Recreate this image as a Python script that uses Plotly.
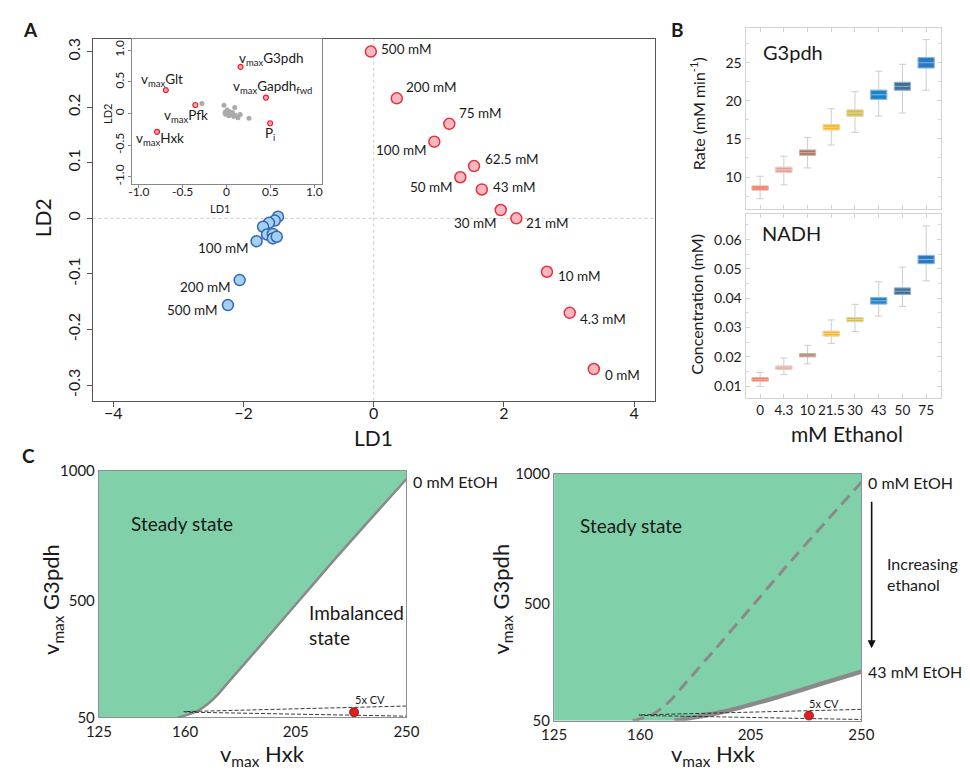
import plotly.graph_objects as go

W, H = 970, 775
FONT = "Lato"
INK = "#1a1a1a"


def pxx(x):
    return x / W


def pxy(y):
    return 1 - y / H


# ---------------- Panel A data ----------------
red_labels = ["500 mM", "200 mM", "75 mM", "100 mM", "62.5 mM", "50 mM", "43 mM",
              "30 mM", "21 mM", "10 mM", "4.3 mM", "0 mM"]
red_ld1 = [-0.045, 0.353, 1.16, 0.93, 1.54, 1.33, 1.66, 1.95, 2.19, 2.66, 3.01, 3.38]
red_ld2 = [0.300, 0.216, 0.170, 0.138, 0.094, 0.074, 0.052, 0.015, 0.000, -0.096, -0.170, -0.271]

blue_labels = ["", "", "", "", "", "", "", "", "100 mM", "200 mM", "500 mM"]
blue_ld1 = [-1.47, -1.52, -1.61, -1.70, -1.64, -1.55, -1.55, -1.49, -1.80, -2.06, -2.24]
blue_ld2 = [0.003, -0.004, -0.008, -0.015, -0.029, -0.028, -0.036, -0.033, -0.041, -0.111, -0.156]

# inset (loadings)
load_names = ["v<sub>max</sub>G3pdh", "v<sub>max</sub>Glt", "v<sub>max</sub>Gapdh<sub>fwd</sub>",
              "v<sub>max</sub>Pfk", "v<sub>max</sub>Hxk", "P<sub>i</sub>"]
load_x = [0.16, -0.692, 0.449, -0.356, -0.792, 0.497]
load_y = [0.736, 0.370, 0.252, 0.134, -0.289, -0.154]
gray_x = [-0.281, -0.029, 0.093, 0.008, 0.037, 0.067, 0.0, 0.026, -0.011, 0.052,
          0.10, 0.156, 0.13, 0.256, 0.082, 0.026, -0.018]
gray_y = [0.159, 0.129, 0.093, 0.057, 0.026, 0.015, 0.036, -0.010, -0.010, -0.010,
          -0.026, -0.015, -0.067, -0.077, -0.046, -0.036, 0.015]

# ---------------- Panel B data ----------------
eth_labels = ["0", "4.3", "10", "21.5", "30", "43", "50", "75"]
g3_med = [8.55, 10.94, 13.2, 16.54, 18.4, 20.8, 21.9, 25.0]
g3_q1 = [8.30, 10.60, 12.86, 16.20, 18.0, 20.2, 21.4, 24.32]
g3_q3 = [8.81, 11.28, 13.54, 16.88, 18.8, 21.4, 22.43, 25.68]
g3_lo = [7.14, 8.97, 11.2, 14.2, 15.86, 18.0, 18.4, 21.4]
g3_hi = [10.1, 12.73, 15.2, 18.97, 21.2, 23.9, 24.8, 28.04]

nadh_med = [0.0122, 0.0162, 0.0206, 0.0279, 0.0327, 0.0391, 0.0424, 0.0532]
nadh_q1 = [0.0117, 0.0157, 0.0200, 0.0271, 0.0320, 0.0380, 0.0413, 0.0518]
nadh_q3 = [0.0128, 0.0168, 0.0211, 0.0287, 0.0334, 0.0402, 0.0435, 0.0546]
nadh_lo = [0.0099, 0.0139, 0.0176, 0.0246, 0.0286, 0.0339, 0.0372, 0.0459]
nadh_hi = [0.0146, 0.0196, 0.0239, 0.0326, 0.0379, 0.0456, 0.0506, 0.0647]

box_colors = ["#ee6a4f", "#e3a296", "#a87360", "#f8b626", "#cfbd50", "#1f82c8", "#3f7099", "#2a79c2"]

# ---------------- Panel C data ----------------
hxk_0mM = [157, 161, 165, 169, 173, 178, 190, 205, 220, 235, 250]
g3_0mM = [50, 60, 75, 100, 135, 190, 320, 485, 650, 810, 968]
hxk_43mM = [174, 193.9, 213.7, 233.5, 250]
g3_43mM = [50, 85, 135, 192, 239.5]
cv_hxk = [250, 161, 159.5, 161, 250]
cv_g3 = [94, 74.5, 72.5, 70.5, 55]
ref_hxk = [228.7]
ref_g3 = [70]

GREEN = "#80d1a9"
LINE_GRAY = "#8a8a8a"

fig = go.Figure()

# ---- Panel A main
fig.add_trace(go.Scatter(x=red_ld1, y=red_ld2, mode="markers", xaxis="x", yaxis="y",
                         marker=dict(size=11, color="#f7b8c2", line=dict(color="#e8303c", width=1.5))))
fig.add_trace(go.Scatter(x=blue_ld1, y=blue_ld2, mode="markers", xaxis="x", yaxis="y",
                         marker=dict(size=11, color="#a3d0ef", line=dict(color="#3466b3", width=1.5))))
# ---- Panel A inset
fig.add_trace(go.Scatter(x=gray_x, y=gray_y, mode="markers", xaxis="x2", yaxis="y2",
                         marker=dict(size=5, color="#aaaaaa")))
fig.add_trace(go.Scatter(x=load_x, y=load_y, mode="markers", xaxis="x2", yaxis="y2",
                         marker=dict(size=5, color="#f7a6ae", line=dict(color="#e8202c", width=1.2))))


def lighten(hexc, f):
    r, g, b = int(hexc[1:3], 16), int(hexc[3:5], 16), int(hexc[5:7], 16)
    r, g, b = [int(c + (255 - c) * f) for c in (r, g, b)]
    return f"rgb({r},{g},{b})"


# ---- Panel B boxes
idx = list(range(len(eth_labels)))
for (xa, ya, med, q1, q3, lo, hi) in [("x3", "y3", g3_med, g3_q1, g3_q3, g3_lo, g3_hi),
                                      ("x4", "y4", nadh_med, nadh_q1, nadh_q3, nadh_lo, nadh_hi)]:
    fig.add_trace(go.Box(x=idx, q1=q1, median=med, q3=q3, lowerfence=lo, upperfence=hi,
                         xaxis=xa, yaxis=ya, width=0.68, whiskerwidth=0.45,
                         fillcolor="rgba(0,0,0,0)", line=dict(color="#cdcdcd", width=1),
                         boxpoints=False, hoverinfo="skip"))
    for i in idx:
        fig.add_trace(go.Box(x=[i], q1=[q1[i]], median=[med[i]], q3=[q3[i]],
                             lowerfence=[q1[i]], upperfence=[q3[i]],
                             xaxis=xa, yaxis=ya, width=0.68, whiskerwidth=0,
                             fillcolor=box_colors[i],
                             line=dict(color=lighten(box_colors[i], 0.45), width=1),
                             boxpoints=False, hoverinfo="skip"))

# ---- Panel C left
fig.add_trace(go.Scatter(x=[125] + hxk_0mM + [250, 125], y=[50] + g3_0mM + [1000, 1000],
                         fill="toself", fillcolor=GREEN, mode="none", xaxis="x5", yaxis="y5",
                         line=dict(shape="spline", smoothing=0.6)))
fig.add_trace(go.Scatter(x=hxk_0mM, y=g3_0mM, mode="lines", xaxis="x5", yaxis="y5",
                         line=dict(color=LINE_GRAY, width=2.5, shape="spline", smoothing=0.6)))
fig.add_trace(go.Scatter(x=cv_hxk, y=cv_g3, mode="lines", xaxis="x5", yaxis="y5",
                         line=dict(color="#222222", width=0.9, dash="4px,2px")))
fig.add_trace(go.Scatter(x=ref_hxk, y=ref_g3, mode="markers", xaxis="x5", yaxis="y5",
                         marker=dict(size=9, color="#e21d1d", line=dict(color="#7a0c0c", width=0.8))))

# ---- Panel C right
fig.add_trace(go.Scatter(x=[125] + hxk_43mM + [250, 125], y=[50] + g3_43mM + [1000, 1000],
                         fill="toself", fillcolor=GREEN, mode="none", xaxis="x6", yaxis="y6"))
fig.add_trace(go.Scatter(x=hxk_0mM, y=g3_0mM, mode="lines", xaxis="x6", yaxis="y6",
                         line=dict(color=LINE_GRAY, width=3, dash="12px,7px", shape="spline", smoothing=0.6)))
fig.add_trace(go.Scatter(x=hxk_43mM, y=g3_43mM, mode="lines", xaxis="x6", yaxis="y6",
                         line=dict(color=LINE_GRAY, width=4.5, shape="spline", smoothing=0.6)))
fig.add_trace(go.Scatter(x=cv_hxk, y=cv_g3, mode="lines", xaxis="x6", yaxis="y6",
                         line=dict(color="#222222", width=0.9, dash="4px,2px")))
fig.add_trace(go.Scatter(x=ref_hxk, y=ref_g3, mode="markers", xaxis="x6", yaxis="y6",
                         marker=dict(size=9, color="#e21d1d", line=dict(color="#7a0c0c", width=0.8))))

# ---------------- annotations ----------------
ann = []


def txt(x, y, t, size, xref="paper", yref="paper", xanchor="center", yanchor="middle",
        angle=0, xshift=0, yshift=0, align="center", color=INK):
    ann.append(dict(x=x, y=y, xref=xref, yref=yref, text=t, showarrow=False,
                    xanchor=xanchor, yanchor=yanchor, textangle=angle, xshift=xshift,
                    yshift=yshift, align=align, font=dict(family=FONT, size=size, color=color)))


# panel letters
txt(pxx(18), pxy(20), "<b>A</b>", 19)
txt(pxx(683), pxy(20), "<b>B</b>", 19)
txt(pxx(16), pxy(456), "<b>C</b>", 19)

# Panel A labels
red_off = [("left", 8, -3), ("left", 7, -11), ("left", 8, -11), ("right", -6, 8),
           ("left", 9, -7), ("right", -5, 10), ("left", 9, -2), ("right", -2, 13),
           ("left", 8, 5), ("left", 9, 4), ("left", 8, 6), ("left", 9, 6)]
for lab, x, y, (anc, dx, dy) in zip(red_labels, red_ld1, red_ld2, red_off):
    txt(x, y, lab, 13.5, xref="x", yref="y", xanchor=anc, xshift=dx, yshift=-dy)
blue_off = {"100 mM": ("right", -7, 7), "200 mM": ("right", -8, 7), "500 mM": ("right", -9, 5)}
for lab, x, y in zip(blue_labels, blue_ld1, blue_ld2):
    if lab:
        anc, dx, dy = blue_off[lab]
        txt(x, y, lab, 13.5, xref="x", yref="y", xanchor=anc, xshift=dx, yshift=-dy)
txt(pxx(370), pxy(438), "LD1", 21)
txt(pxx(30), pxy(213), "LD2", 21, angle=-90)

# inset labels
load_off = [(30, -8), (-4, -10), (7, -11), (-9, 11), (2.5, 7), (0, 11)]
for lab, x, y, (dx, dy) in zip(load_names, load_x, load_y, load_off):
    txt(x, y, lab, 13.5, xref="x2", yref="y2", xshift=dx, yshift=-dy)
txt(pxx(213), pxy(203), "LD1", 11)
txt(pxx(97), pxy(106), "LD2", 11, angle=-90)

# Panel B text
txt(pxx(801), pxy(43), "G3pdh", 20)
txt(pxx(800), pxy(228), "NADH", 20)
txt(pxx(703), pxy(106.5), "Rate (mM min<sup>-1</sup>)", 16, angle=-90)
txt(pxx(703), pxy(301.7), "Concentration (mM)", 16, angle=-90)
txt(pxx(857), pxy(434), "mM Ethanol", 21)

# Panel C text
txt(158.6, 795.8, "Steady state", 19, xref="x5", yref="y5")
txt(156.1, 803, "Steady state", 19, xref="x6", yref="y6")
txt(209.4, 405.8, "Imbalanced<br>state", 19, xref="x5", yref="y5", xanchor="left", align="left")
txt(235, 118, "5x CV", 11, xref="x5", yref="y5")
txt(235, 118, "5x CV", 11, xref="x6", yref="y6")
txt(pxx(409), pxy(482.3), "0 mM EtOH", 16, xanchor="left")
txt(pxx(876.7), pxy(483.3), "0 mM EtOH", 16, xanchor="left")
txt(pxx(876.7), pxy(677.7), "43 mM EtOH", 16, xanchor="left")
txt(pxx(895.7), pxy(577.2), "Increasing<br>ethanol", 16, xanchor="left", align="left")
txt(pxx(40), pxy(603), "v<sub>max</sub> G3pdh", 22, angle=-90)
txt(pxx(502), pxy(603), "v<sub>max</sub> G3pdh", 22, angle=-90)
txt(pxx(256.7), pxy(763), "v<sub>max</sub> Hxk", 22)
txt(pxx(720), pxy(763), "v<sub>max</sub> Hxk", 22)

ann.append(dict(x=pxx(882.3), y=pxy(653.3), xref="paper", yref="paper", ax=0, ay=-148,
                showarrow=True, arrowhead=2, arrowsize=1, arrowwidth=1.6, arrowcolor="#111111",
                text=""))

shapes = [
    dict(type="line", xref="x", yref="y domain", x0=0, x1=0, y0=0, y1=1,
         line=dict(color="#c8c8c8", width=1, dash="dot"), layer="below"),
    dict(type="line", xref="x domain", yref="y", x0=0, x1=1, y0=0, y1=0,
         line=dict(color="#c8c8c8", width=1, dash="dot"), layer="below"),
    dict(type="line", xref="x2", yref="y2 domain", x0=0, x1=0, y0=0, y1=1,
         line=dict(color="#bbbbbb", width=1, dash="dot"), layer="below"),
    dict(type="line", xref="x2 domain", yref="y2", x0=0, x1=1, y0=0, y1=0,
         line=dict(color="#bbbbbb", width=1, dash="dot"), layer="below"),
]

tf = lambda s: dict(family=FONT, size=s, color=INK)

main_ax = dict(showgrid=False, zeroline=False, showline=True, mirror=True, linecolor="#555555",
               linewidth=1, ticks="outside", ticklen=5, tickcolor="#555555", tickfont=tf(16))
inset_ax = dict(showgrid=False, zeroline=False, showline=True, mirror=True, linecolor="#888888",
                linewidth=1, ticks="outside", ticklen=3, tickcolor="#888888", tickfont=tf(12))
b_ax = dict(showgrid=False, zeroline=False, showline=True, mirror="ticks", linecolor="#d3d3d3",
            linewidth=1, ticks="inside", ticklen=4, tickcolor="#d3d3d3", tickfont=tf(14))
c_ax = dict(showgrid=False, zeroline=False, showline=True, mirror=True, linecolor="#909090",
            linewidth=1.2, ticks="", tickfont=tf(15))

fig.update_layout(
    width=W, height=H, autosize=False, margin=dict(l=0, r=0, t=0, b=0),
    paper_bgcolor="white", plot_bgcolor="white", showlegend=False, hovermode=False,
    boxmode="overlay", font=dict(family=FONT, color=INK),
    xaxis=dict(main_ax, domain=[pxx(81.7), pxx(659.7)], range=[-4.32, 4.32],
               tickvals=[-4, -2, 0, 2, 4], ticklabelstandoff=-7, anchor="y"),
    yaxis=dict(main_ax, domain=[pxy(400), pxy(29.5)], range=[-0.328, 0.323],
               tickvals=[-0.3, -0.2, -0.1, 0, 0.1, 0.2, 0.3],
               ticktext=["-0.3", "-0.2", "-0.1", "0", "0.1", "0.2", "0.3"], tickangle=-90, anchor="x"),
    xaxis2=dict(inset_ax, domain=[pxx(122.7), pxx(317.3)], range=[-1.073, 1.086],
                tickvals=[-1, -0.5, 0, 0.5, 1], ticktext=["-1.0", "-0.5", "0", "0.5", "1.0"],
                ticklabelstandoff=-6, anchor="y2"),
    yaxis2=dict(inset_ax, domain=[pxy(177.7), pxy(29.5)], range=[-1.107, 1.18],
                tickvals=[-1, -0.5, 0, 0.5, 1], ticktext=["-1.0", "-0.5", "0", "0.5", "1.0"],
                tickangle=-90, anchor="x2"),
    xaxis3=dict(b_ax, domain=[pxx(752.7), pxx(953.3)], range=[-0.615, 7.615], tickvals=idx,
                showticklabels=False, anchor="y3"),
    yaxis3=dict(b_ax, domain=[pxy(204), pxy(18.3)], range=[5.77, 29.58], tickvals=[10, 15, 20, 25],
                minor=dict(ticks="inside", ticklen=3, tickcolor="#dddddd", dtick=2.5), anchor="x3"),
    xaxis4=dict(b_ax, domain=[pxx(752.7), pxx(953.3)], range=[-0.615, 7.615], tickvals=idx,
                ticktext=eth_labels, tickangle=0, tickfont=tf(13.5), anchor="y4"),
    yaxis4=dict(b_ax, domain=[pxy(397.3), pxy(209)], range=[0.0059, 0.0687],
                tickvals=[0.01, 0.02, 0.03, 0.04, 0.05, 0.06],
                ticktext=["0.01", "0.02", "0.03", "0.04", "0.05", "0.06"],
                minor=dict(ticks="inside", ticklen=3, tickcolor="#dddddd", dtick=0.005), anchor="x4"),
    xaxis5=dict(c_ax, domain=[pxx(88.3), pxx(404.3)], range=[125, 250], tickvals=[125, 160, 205, 250],
                anchor="y5"),
    yaxis5=dict(c_ax, domain=[pxy(724.3), pxy(471.7)], range=[50, 1000], tickvals=[50, 500, 1000],
                anchor="x5"),
    xaxis6=dict(c_ax, domain=[pxx(556), pxx(871.7)], range=[125, 250], tickvals=[125, 160, 205, 250],
                anchor="y6"),
    yaxis6=dict(c_ax, domain=[pxy(727.7), pxy(475)], range=[50, 1000], tickvals=[50, 500, 1000],
                anchor="x6"),
    annotations=ann, shapes=shapes,
)

fig.write_html("out.html", config={"displayModeBar": False},
               post_script="document.body.style.margin='0';document.body.style.padding='0';")
